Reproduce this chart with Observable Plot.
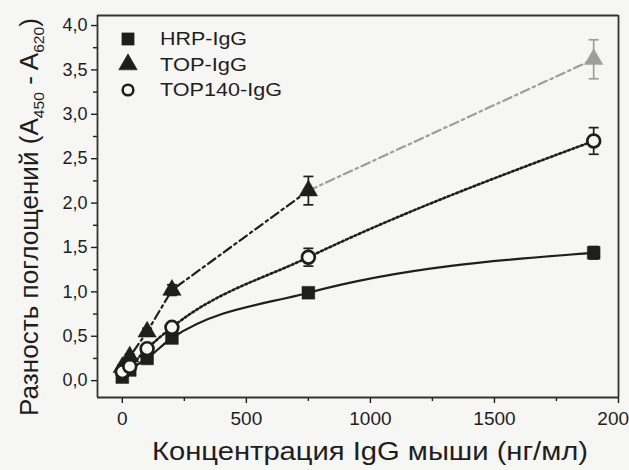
<!DOCTYPE html>
<html>
<head>
<meta charset="utf-8">
<script src="https://cdn.jsdelivr.net/npm/d3@7"></script>
<script src="https://cdn.jsdelivr.net/npm/@observablehq/plot@0.6"></script>
<style>
  html, body { margin: 0; padding: 0; background: #f6f6f5; }
  #chart { position: relative; width: 629px; height: 470px; }
  #chart svg { overflow: hidden; display: block; }
  #box { position: absolute; box-sizing: border-box; border: 1.8px solid #333333; pointer-events: none; }
</style>
</head>
<body>
<div id="chart"><div id="box"></div></div>
<script>
// Concentrations of mouse IgG (ng/ml)
const conc = [0, 30, 100, 200, 750, 1900];

// Absorbance difference (A450 - A620) for each conjugate, with error bars
const hrpIgG = [0.04, 0.12, 0.25, 0.48, 0.99, 1.44];
const hrpIgGErr = [0.02, 0.03, 0.04, 0.05, 0.04, 0.07];
const topIgG = [0.15, 0.27, 0.55, 1.02, 2.14, 3.62];
const topIgGErr = [0.03, 0.03, 0.04, 0.06, 0.16, 0.22];
const top140IgG = [0.10, 0.16, 0.36, 0.60, 1.39, 2.70];
const top140IgGErr = [0.03, 0.03, 0.04, 0.05, 0.10, 0.15];

const seriesNames = ["HRP-IgG", "TOP-IgG", "TOP140-IgG"];
const xTicks = [0, 500, 1000, 1500, 2000];
const yTicks = [0, 0.5, 1, 1.5, 2, 2.5, 3, 3.5, 4];
const xDomain = [-100, 2000];
const yDomain = [-0.19, 4.113];
const xLabel = "Концентрация IgG мыши (нг/мл)";

const font = "'Liberation Sans', Arial, sans-serif";
const ink = "#1e1e1e";
const grey = "#9d9d9d";
const paper = "#f6f6f5";

const rows = (name, vals, errs) => conc.map((x, i) => ({series: name, x, y: vals[i], e: errs[i], last: i === conc.length - 1}));
const hrpRows = rows(seriesNames[0], hrpIgG, hrpIgGErr);
const topRows = rows(seriesNames[1], topIgG, topIgGErr);
const top140Rows = rows(seriesNames[2], top140IgG, top140IgGErr);
const topBlack = topRows.filter(d => d.x <= 750);
const topGrey = topRows.filter(d => d.x >= 750);
const all = [...hrpRows, ...topRows, ...top140Rows];

// horizontal cap for error bars
const cap = {draw(ctx) { ctx.moveTo(-5, 0); ctx.lineTo(5, 0); }};
const comma = d => d.toFixed(1).replace(".", ",");

const errMarks = (data, color) => [
  Plot.ruleX(data, {x: "x", y1: d => d.y - d.e, y2: d => d.y + d.e, stroke: color, strokeWidth: 1.7}),
  Plot.dot(data, {x: "x", y: d => d.y - d.e, symbol: cap, stroke: color, strokeWidth: 1.7}),
  Plot.dot(data, {x: "x", y: d => d.y + d.e, symbol: cap, stroke: color, strokeWidth: 1.7})
];

const chart = Plot.plot({
  width: 629,
  height: 470,
  marginLeft: 97,
  marginRight: 11,
  marginTop: 15,
  marginBottom: 73,
  style: {fontFamily: font, background: "transparent", color: ink},
  x: {domain: xDomain},
  y: {domain: yDomain},
  marks: [
    // plot box along the domain edges
    Plot.ruleX(xDomain, {stroke: "#333333", strokeWidth: 1.8}),
    Plot.ruleY(yDomain, {stroke: "#333333", strokeWidth: 1.8}),

    // axes
    Plot.axisX({ticks: xTicks, tickSize: 6, tickPadding: 8, fontSize: 19, tickFormat: d => String(d), label: null, strokeWidth: 1.4}),
    Plot.axisX({ticks: d3.range(250, 2000, 500), tickSize: 4, tickFormat: () => "", label: null, strokeWidth: 1.4}),
    Plot.axisY({ticks: yTicks, tickSize: 6, tickPadding: 4, fontSize: 18, tickFormat: comma, label: null, strokeWidth: 1.4}),
    Plot.axisY({ticks: d3.range(0.25, 4, 0.5), tickSize: 4, tickFormat: () => "", label: null, strokeWidth: 1.4}),

    // fitted curves
    Plot.line(hrpRows, {x: "x", y: "y", curve: "monotone-x", stroke: ink, strokeWidth: 2.2}),
    Plot.line(topBlack, {x: "x", y: "y", stroke: ink, strokeWidth: 2.2, strokeDasharray: "9,4,2.5,4"}),
    Plot.line(topGrey, {x: "x", y: "y", stroke: grey, strokeWidth: 2.2, strokeDasharray: "9,4,2.5,4"}),
    Plot.line(top140Rows, {x: "x", y: "y", curve: "monotone-x", stroke: ink, strokeWidth: 2.6, strokeDasharray: "2,2.6"}),

    // error bars
    ...errMarks(all.filter(d => !(d.series === "TOP-IgG" && d.last)), ink),
    ...errMarks(topRows.filter(d => d.last), grey),

    // data points
    Plot.dot(hrpRows, {x: "x", y: "y", symbol: "square", r: 7.2, fill: ink, stroke: ink, strokeWidth: 0.5}),
    Plot.dot(topRows, {x: "x", y: "y", symbol: "triangle", r: 6.8, fill: d => d.last ? grey : ink, stroke: d => d.last ? grey : ink, strokeWidth: 0.5}),
    Plot.dot(top140Rows, {x: "x", y: "y", symbol: "circle", r: 6.4, fill: paper, stroke: ink, strokeWidth: 2.7})
  ]
});

const holder = document.getElementById("chart");
holder.insertBefore(chart, holder.firstChild);

// outline of the plotting area, taken from the scale ranges
const xr = chart.scale("x").range;
const yr = chart.scale("y").range;
const box = document.getElementById("box");
box.style.left = (Math.min(...xr) - 0.4) + "px";
box.style.top = (Math.min(...yr) - 0.4) + "px";
box.style.width = (Math.abs(xr[1] - xr[0]) + 1.8) + "px";
box.style.height = (Math.abs(yr[1] - yr[0]) + 1.8) + "px";

const svg = d3.select(chart);
const yBottom = Math.max(...yr);

// x-axis title
svg.append("text")
  .attr("x", 370).attr("y", yBottom + 63)
  .attr("text-anchor", "middle")
  .attr("font-family", font).attr("font-size", 25).attr("fill", ink)
  .attr("textLength", 436).attr("lengthAdjust", "spacingAndGlyphs")
  .text(xLabel);

// y-axis title with subscripts
const yTitle = svg.append("text")
  .attr("transform", "translate(38,217) rotate(-90)")
  .attr("text-anchor", "middle")
  .attr("font-family", font)
  .attr("font-size", 25)
  .attr("textLength", 398).attr("lengthAdjust", "spacingAndGlyphs")
  .attr("fill", ink);
yTitle.append("tspan").text("Разность поглощений (A");
yTitle.append("tspan").attr("font-size", 15).attr("dy", 6).text("450");
yTitle.append("tspan").attr("dy", -6).text(" - A");
yTitle.append("tspan").attr("font-size", 15).attr("dy", 6).text("620");
yTitle.append("tspan").attr("dy", -6).text(")");

// legend
const symbols = [d3.symbolSquare, d3.symbolTriangle, d3.symbolCircle];
const legendWidths = [87, 87, 122];
const legend = svg.append("g")
  .attr("font-family", font)
  .attr("font-size", 18)
  .attr("text-anchor", "start")
  .attr("fill", ink);
seriesNames.forEach((name, i) => {
  const cy = 39 + i * 25.5;
  const sym = d3.symbol(symbols[i], i === 2 ? 90 : 150)();
  legend.append("path")
    .attr("transform", `translate(128,${cy})`)
    .attr("d", sym)
    .attr("fill", i === 2 ? "none" : ink)
    .attr("stroke", ink)
    .attr("stroke-width", i === 2 ? 2.5 : 0.5);
  legend.append("text")
    .attr("x", 160).attr("y", cy).attr("dy", "0.36em")
    .attr("textLength", legendWidths[i]).attr("lengthAdjust", "spacingAndGlyphs")
    .text(name);
});
</script>
</body>
</html>
